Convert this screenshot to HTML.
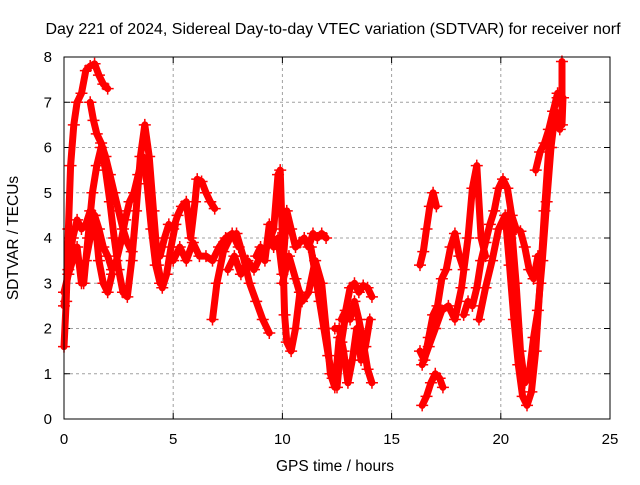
<!DOCTYPE html>
<html><head><meta charset="utf-8"><style>
body{margin:0;background:#fff}
svg text{font-family:"Liberation Sans",sans-serif;fill:#000}
</style></head><body>
<svg id="chart" width="640" height="480" viewBox="0 0 640 480">
<rect width="640" height="480" fill="#fff"/>
<text x="333" y="34" font-size="16" text-anchor="middle">Day 221 of 2024, Sidereal Day-to-day VTEC variation (SDTVAR) for receiver norf</text>
<text x="335" y="471" font-size="15.5" text-anchor="middle">GPS time / hours</text>
<text transform="translate(18,238) rotate(-90)" font-size="15.5" text-anchor="middle">SDTVAR / TECUs</text>
<g id="grid"></g>
<g id="ticks"></g>
<g id="marks"></g>
<rect x="64" y="57" width="546" height="362" fill="none" stroke="#000" stroke-width="1"/>
</svg>
<script>
const xTicks=[0,5,10,15,20,25];
const yTicks=[0,1,2,3,4,5,6,7,8];
const tA=[0,0.1,0.2,0.3,0.45,0.6,0.8,1.0,1.2,1.4,1.6,1.8,2.0];
const vA=[1.6,2.6,4.2,5.6,6.5,7.0,7.2,7.7,7.8,7.85,7.6,7.4,7.3];
const tB=[1.2,1.35,1.5,1.7,1.9,2.1,2.3,2.5,2.7,2.9,3.1];
const vB=[7.0,6.6,6.3,6.1,5.8,5.4,5.0,4.6,4.2,3.9,3.7];
const tC=[0.9,1.1,1.3,1.5,1.7,1.9,2.1,2.3,2.5,2.7,2.9,3.1,3.3,3.5,3.7,3.9,4.1,4.3,4.5,4.7,4.9,5.1];
const vC=[3.0,4.0,5.0,5.6,6.0,5.5,4.8,4.0,3.3,2.8,2.7,3.5,4.6,5.8,6.5,5.8,4.6,3.4,2.9,3.2,3.8,4.3];
const tD=[0,0.2,0.4,0.6,0.8,1.0,1.2,1.4,1.6,1.8,2.0,2.2,2.4,2.6,2.8,3.0,3.2,3.4,3.6,3.8,4.0,4.2,4.4];
const vD=[2.5,3.3,4.0,4.4,4.2,4.3,4.6,4.5,4.2,3.8,3.6,3.3,3.5,3.9,4.4,4.8,5.0,5.4,5.8,5.2,4.2,3.4,3.0];
const tE=[0,0.2,0.4,0.6,0.8,1.0,1.2,1.4,1.6,1.8,2.0,2.2];
const vE=[2.8,3.2,3.5,3.8,3.0,3.5,4.0,4.5,3.5,3.0,2.8,3.2];
const tF=[4.4,4.6,4.8,5.0,5.2,5.4,5.6,5.8,6.0,6.1,6.3,6.5,6.7,6.9];
const vF=[3.6,4.0,4.3,4.2,4.5,4.7,4.8,4.0,4.8,5.3,5.25,5.0,4.8,4.65];
const tG=[5.0,5.3,5.6,5.9,6.2,6.5,6.8,7.1,7.4,7.7,8.0];
const vG=[3.5,3.8,3.5,3.9,3.6,3.6,3.5,3.8,4.0,4.1,3.8];
const tH=[6.8,7.0,7.3,7.6,7.9,8.2,8.5,8.8,9.1,9.4];
const vH=[2.2,3.0,3.7,4.0,4.1,3.6,3.0,2.6,2.2,1.9];
const tI=[7.5,7.8,8.1,8.4,8.7,9.0,9.3,9.6,9.8,9.9,10.0,10.1,10.2,10.4,10.6,10.8];
const vI=[3.3,3.6,3.2,3.5,3.3,3.6,3.8,4.2,5.4,5.5,4.0,2.3,1.7,1.5,2.0,2.8];
const tJ=[8.8,9.0,9.2,9.4,9.6,9.8,10.0,10.2,10.4,10.6,10.8,11.0,11.2,11.4,11.6,11.8,12.0];
const vJ=[3.6,3.8,3.5,4.3,3.8,4.0,3.2,4.6,4.2,3.8,3.9,4.0,3.8,4.1,4.0,4.1,4.0];
const tK=[10.0,10.3,10.6,10.9,11.2,11.5,11.8,12.0,12.2,12.4,12.6];
const vK=[3.0,3.6,3.1,2.6,2.8,3.5,3.0,2.0,1.0,0.7,1.8];
const tL=[11.3,11.5,11.7,11.9,12.1,12.3,12.5,12.7,12.9,13.1,13.3,13.5,13.7,13.9,14.1];
const vL=[3.8,3.2,2.6,2.0,1.4,0.9,0.7,1.7,2.3,2.2,2.6,2.2,1.7,1.1,0.8];
const tM=[12.7,12.9,13.1,13.3,13.5,13.7,13.9,14.1];
const vM=[2.2,2.4,2.9,3.0,2.8,2.95,2.9,2.7];
const tN=[12.4,12.6,12.8,13.0,13.2,13.4,13.6,13.8,14.0];
const vN=[2.0,2.0,1.5,0.8,1.3,2.0,1.3,1.6,2.2];
const tP=[16.3,16.45,16.6,16.75,16.9,17.05];
const vP=[3.4,3.7,4.2,4.7,5.0,4.7];
const tQ=[16.4,16.6,16.8,17.0,17.2,17.35];
const vQ=[0.3,0.5,0.8,1.0,0.9,0.7];
const tR=[16.3,16.5,16.7,16.9,17.1,17.3,17.5,17.7,17.9,18.1,18.3];
const vR=[1.5,1.3,1.8,2.3,2.5,3.1,3.3,3.8,4.1,3.6,3.3];
const tS=[16.4,16.7,17.0,17.3,17.6,17.9,18.2,18.5,18.7,18.9,19.1,19.3];
const vS=[1.2,1.6,2.0,2.4,2.5,2.2,2.9,4.0,5.1,5.6,4.0,3.6];
const tT=[18.3,18.5,18.7,18.9,19.1,19.3,19.5,19.7,19.9,20.1,20.3,20.5,20.7,20.9,21.1,21.3,21.5,21.7];
const vT=[2.3,2.6,2.5,2.9,3.5,3.9,4.3,4.6,5.1,5.3,5.1,4.5,4.2,4.15,3.8,3.3,3.1,3.6];
const tU=[19.0,19.3,19.6,19.9,20.2,20.4,20.6,20.8,21.0,21.2,21.4,21.6,21.8,22.0,22.2,22.4,22.6];
const vU=[2.2,2.9,3.5,4.2,4.5,3.4,2.2,1.2,0.5,0.3,0.6,1.5,3.0,4.6,6.0,6.8,7.2];
const tV=[20.3,20.5,20.7,20.9,21.1,21.3,21.5,21.7,21.9,22.1,22.3,22.5,22.7];
const vV=[4.5,4.2,3.0,1.5,0.8,1.0,1.8,2.4,3.5,4.8,6.0,6.8,6.4];
const tW=[21.6,21.8,22.0,22.2,22.4,22.6];
const vW=[5.5,5.9,6.1,6.4,6.8,7.1];
const tX=[22.8,22.8,22.85];
const vX=[7.9,6.5,7.1];
const seriesT=[tA,tB,tC,tD,tE,tF,tG,tH,tI,tJ,tK,tL,tM,tN,tP,tQ,tR,tS,tT,tU,tV,tW,tX];
const seriesV=[vA,vB,vC,vD,vE,vF,vG,vH,vI,vJ,vK,vL,vM,vN,vP,vQ,vR,vS,vT,vU,vV,vW,vX];
const NS='http://www.w3.org/2000/svg';
const X0=64,X1=610,Y0=419,Y1=57;
function xs(t){return X0+(t-0)/(25-0)*(X1-X0);}
function ys(v){return Y0-(v-0)/(8-0)*(Y0-Y1);}
function mk(tag,attrs,parent){const e=document.createElementNS(NS,tag);for(const k in attrs)e.setAttribute(k,attrs[k]);parent.appendChild(e);return e;}
const grid=document.getElementById('grid'),ticks=document.getElementById('ticks'),marks=document.getElementById('marks');
xTicks.forEach(t=>{
  const x=xs(t);
  if(t>0&&t<25){const g=mk('line',{x1:x,y1:Y0,x2:x,y2:Y1,stroke:'#a0a0a0','stroke-dasharray':'3,3'},grid);
    
    }
  mk('line',{x1:x,y1:Y0,x2:x,y2:Y0-6,stroke:'#000'},ticks);
  mk('line',{x1:x,y1:Y1,x2:x,y2:Y1+6,stroke:'#000'},ticks);
  const l=mk('text',{x:x,y:Y0+25,'font-size':15,'text-anchor':'middle'},ticks);
  l.textContent=t;
  
  
});
yTicks.forEach(v=>{
  const y=ys(v);
  if(v>0&&v<8){const g=mk('line',{x1:X0,y1:y,x2:X1,y2:y,stroke:'#a0a0a0','stroke-dasharray':'3,3'},grid);
    
    }
  mk('line',{x1:X0,y1:y,x2:X0+6,y2:y,stroke:'#000'},ticks);
  mk('line',{x1:X1,y1:y,x2:X1-6,y2:y,stroke:'#000'},ticks);
  const l=mk('text',{x:X0-12,y:y+5,'font-size':15,'text-anchor':'end'},ticks);
  l.textContent=v;
  
  
});
seriesT.forEach((ts,i)=>{
  const vs=seriesV[i];
  const pts=ts.map((t,j)=>xs(t).toFixed(1)+','+ys(vs[j]).toFixed(1)).join(' ');
  const pl=mk('polyline',{points:pts,fill:'none',stroke:'#f00','stroke-width':7,'stroke-linejoin':'round','stroke-linecap':'round'},marks);
  
  
  ts.forEach((t,j)=>{
    const x=xs(t),y=ys(vs[j]);
    const p=mk('path',{d:`M${x-6},${y}h12M${x},${y-6}v12`,stroke:'#f00','stroke-width':1.5},marks);
    
    
  });
});
</script>
</body></html>
